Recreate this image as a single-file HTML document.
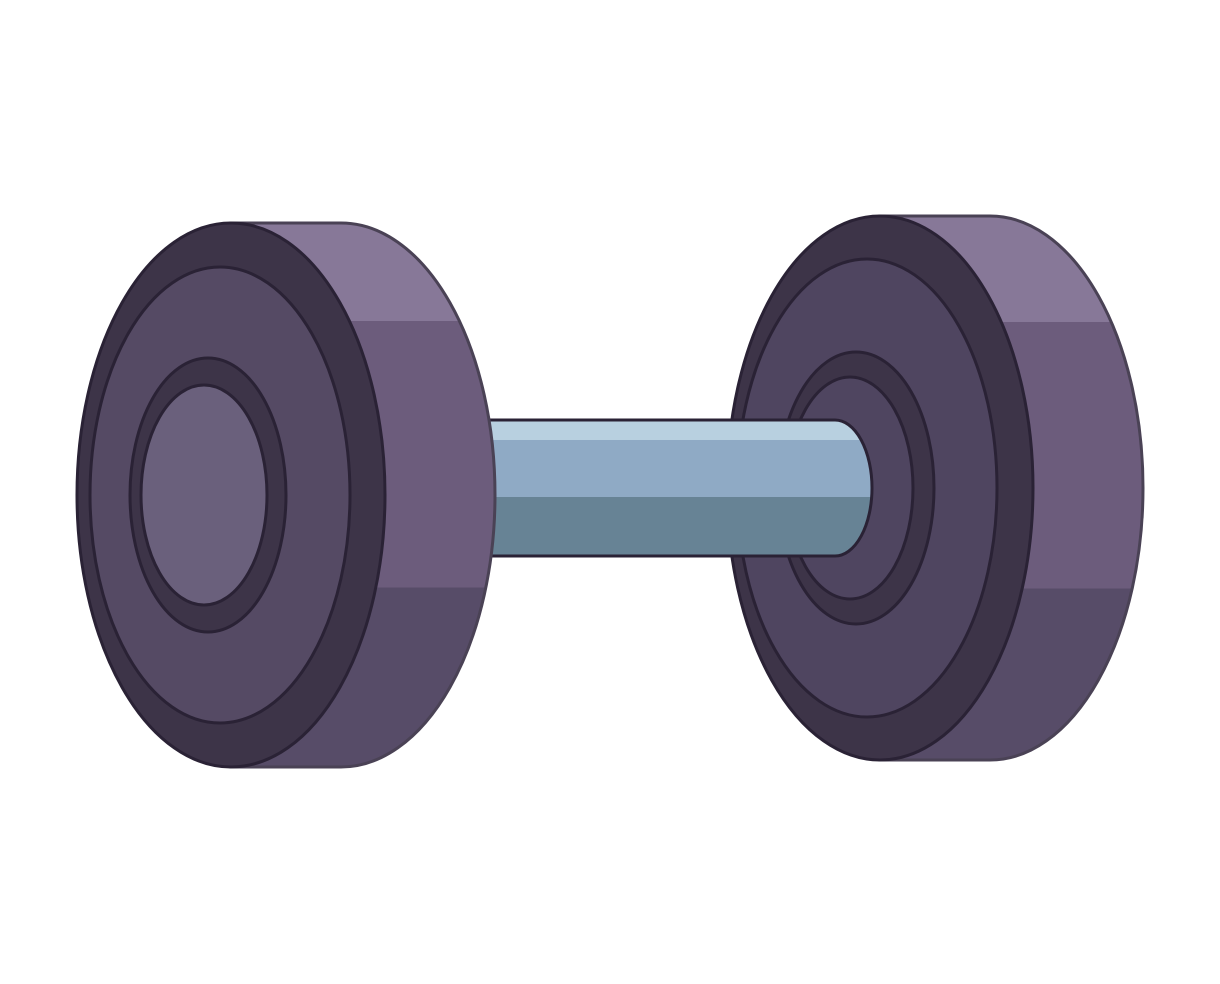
<!DOCTYPE html>
<html><head><meta charset="utf-8"><style>
html,body{margin:0;padding:0;background:#fff;width:1220px;height:984px;overflow:hidden}
</style></head><body>
<svg width="1220" height="984" viewBox="0 0 1220 984">
<defs>
<linearGradient id="side" x1="0" y1="0" x2="0" y2="1" gradientUnits="objectBoundingBox">
<stop offset="0" stop-color="#877898"/><stop offset="0.18" stop-color="#877898"/>
<stop offset="0.18" stop-color="#6c5c7c"/><stop offset="0.67" stop-color="#6c5c7c"/>
<stop offset="0.67" stop-color="#574c68"/><stop offset="1" stop-color="#574c68"/>
</linearGradient>
<linearGradient id="side2" x1="0" y1="0" x2="0" y2="1" gradientUnits="objectBoundingBox">
<stop offset="0" stop-color="#877898"/><stop offset="0.195" stop-color="#877898"/>
<stop offset="0.195" stop-color="#6c5c7c"/><stop offset="0.685" stop-color="#6c5c7c"/>
<stop offset="0.685" stop-color="#574c68"/><stop offset="1" stop-color="#574c68"/>
</linearGradient>
</defs>
<g stroke="#2a2235" stroke-width="3">
<path d="M880,216 L990,216 A153,272 0 0 1 990,760 L880,760 Z" fill="url(#side2)" stroke="#4a4255"/>
<ellipse cx="880" cy="488" rx="153" ry="272" fill="#3d3448"/>
<ellipse cx="867" cy="488" rx="130" ry="229" fill="#4f4560"/>
<ellipse cx="856" cy="488" rx="78" ry="136" fill="#3d3448"/>
<ellipse cx="850" cy="488" rx="63" ry="111" fill="#4f4560"/>
</g>
<g>
<rect x="470" y="420" width="365" height="136" fill="#8faac5"/>
<rect x="470" y="420" width="365" height="20" fill="#b8d0e0"/>
<rect x="470" y="497" width="365" height="59" fill="#678395"/>
<path d="M835,420 A37,68 0 0 1 835,556 Z" fill="#8faac5"/>
<path d="M835,420 A37,68 0 0 1 862,440 L835,440 Z" fill="#b8d0e0"/>
<path d="M872,497 A37,68 0 0 1 835,556 L835,497 Z" fill="#678395"/>
<path d="M470,420 L835,420 A37,68 0 0 1 835,556 L470,556" fill="none" stroke="#2a2235" stroke-width="3"/>
</g>
<g stroke="#2a2235" stroke-width="3">
<path d="M231,223 L341,223 A154,272 0 0 1 341,767 L231,767 Z" fill="url(#side)" stroke="#4a4255"/>
<ellipse cx="231" cy="495" rx="154" ry="272" fill="#3d3448"/>
<ellipse cx="220" cy="495" rx="130" ry="228" fill="#554a64"/>
<ellipse cx="208" cy="495" rx="78" ry="137" fill="#3d3448"/>
<ellipse cx="204" cy="495" rx="63" ry="110" fill="#6a607c"/>
</g>
</svg>
</body></html>
